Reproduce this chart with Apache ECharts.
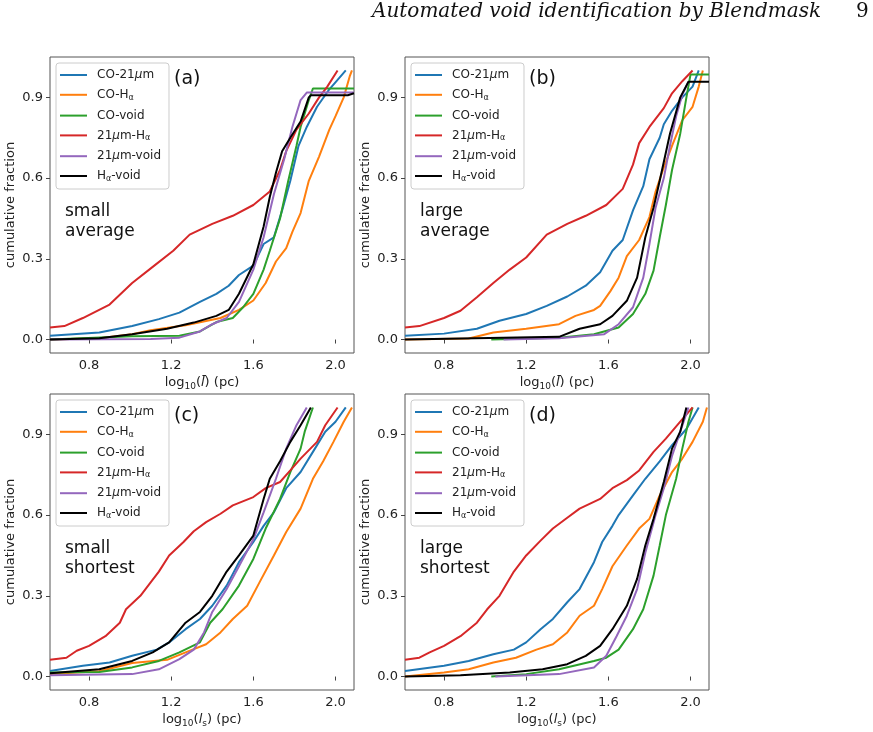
<!DOCTYPE html>
<html>
<head>
<meta charset="utf-8">
<script src="https://cdn.jsdelivr.net/npm/echarts@6/dist/echarts.min.js"></script>
<style>
html, body { margin: 0; background: #fff; }
#chart { width: 873px; height: 732px; }
</style>
</head>
<body>
<div id="chart"></div>
<script>
// series names, same in all four panels
var names = ['CO-21μm', 'CO-Hα', 'CO-void', '21μm-Hα', '21μm-void', 'Hα-void']
var colors = ['#1f77b4', '#ff7f0e', '#2ca02c', '#d62728', '#9467bd', '#000000']

var xTicks = [0.8, 1.2, 1.6, 2.0]
var yTicks = [0.0, 0.3, 0.6, 0.9]

// (a) small / average
var aCo21 = [[0.61,0.014],[0.85,0.026],[1.01,0.05],[1.14,0.076],[1.24,0.10],[1.34,0.14],[1.42,0.17],[1.48,0.20],[1.53,0.24],[1.60,0.275],[1.65,0.355],[1.70,0.38],[1.74,0.48],[1.78,0.59],[1.82,0.72],[1.86,0.79],[1.91,0.865],[1.97,0.93],[2.05,1.0]]
var aCoHa = [[0.61,0.0],[0.85,0.005],[1.01,0.02],[1.10,0.035],[1.27,0.053],[1.44,0.08],[1.53,0.11],[1.60,0.145],[1.66,0.21],[1.71,0.29],[1.76,0.34],[1.79,0.40],[1.83,0.47],[1.87,0.59],[1.92,0.68],[1.97,0.78],[2.00,0.83],[2.04,0.90],[2.07,0.98],[2.08,1.0]]
var aCoVoid = [[0.61,0.0],[1.01,0.012],[1.24,0.014],[1.34,0.03],[1.42,0.065],[1.50,0.08],[1.55,0.12],[1.60,0.17],[1.65,0.26],[1.68,0.33],[1.73,0.45],[1.77,0.59],[1.81,0.72],[1.83,0.79],[1.87,0.89],[1.89,0.933],[2.09,0.933]]
var a21Ha = [[0.61,0.045],[0.68,0.05],[0.77,0.08],[0.90,0.13],[1.01,0.21],[1.11,0.27],[1.21,0.33],[1.29,0.39],[1.40,0.43],[1.50,0.46],[1.60,0.50],[1.68,0.55],[1.73,0.63],[1.76,0.70],[1.81,0.78],[1.87,0.84],[1.92,0.90],[1.96,0.94],[2.01,1.0]]
var a21Void = [[0.61,0.0],[1.10,0.002],[1.24,0.007],[1.34,0.03],[1.40,0.057],[1.47,0.08],[1.53,0.14],[1.60,0.26],[1.65,0.38],[1.70,0.54],[1.75,0.67],[1.79,0.79],[1.83,0.89],[1.86,0.918],[2.09,0.918]]
var aHaVoid = [[0.61,0.0],[0.85,0.005],[1.01,0.02],[1.18,0.04],[1.31,0.063],[1.42,0.088],[1.48,0.11],[1.53,0.17],[1.60,0.28],[1.65,0.42],[1.68,0.53],[1.71,0.62],[1.74,0.70],[1.78,0.75],[1.83,0.81],[1.87,0.90],[1.88,0.908],[2.06,0.908],[2.06,0.915],[2.09,0.915]]

// (b) large / average
var bCo21 = [[0.61,0.014],[0.80,0.022],[0.96,0.04],[1.07,0.07],[1.20,0.095],[1.30,0.125],[1.40,0.16],[1.49,0.20],[1.56,0.25],[1.62,0.33],[1.67,0.37],[1.72,0.48],[1.77,0.57],[1.80,0.67],[1.85,0.75],[1.87,0.80],[1.91,0.85],[1.96,0.90],[2.01,0.94],[2.04,1.0]]
var bCoHa = [[0.61,0.0],[0.92,0.004],[1.04,0.026],[1.20,0.04],[1.36,0.057],[1.44,0.088],[1.53,0.11],[1.56,0.125],[1.61,0.18],[1.65,0.23],[1.69,0.31],[1.75,0.37],[1.80,0.455],[1.83,0.55],[1.87,0.64],[1.91,0.72],[1.96,0.815],[2.01,0.865],[2.04,0.94],[2.06,1.0]]
var bCoVoid = [[1.03,0.0],[1.36,0.007],[1.53,0.02],[1.65,0.045],[1.72,0.095],[1.78,0.17],[1.82,0.256],[1.85,0.38],[1.88,0.50],[1.91,0.63],[1.95,0.765],[1.98,0.90],[2.00,0.985],[2.09,0.985]]
var b21Ha = [[0.61,0.045],[0.68,0.05],[0.80,0.08],[0.88,0.107],[0.96,0.157],[1.04,0.21],[1.12,0.26],[1.20,0.305],[1.30,0.39],[1.40,0.43],[1.49,0.46],[1.59,0.50],[1.67,0.56],[1.72,0.65],[1.75,0.73],[1.80,0.79],[1.87,0.86],[1.91,0.915],[1.96,0.96],[2.01,1.0]]
var b21Void = [[1.09,0.0],[1.36,0.005],[1.58,0.02],[1.65,0.057],[1.72,0.12],[1.77,0.23],[1.80,0.355],[1.83,0.49],[1.87,0.60],[1.90,0.72],[1.93,0.83],[1.96,0.91],[1.99,0.958]]
var bHaVoid = [[0.61,0.0],[1.36,0.01],[1.46,0.04],[1.56,0.057],[1.62,0.088],[1.69,0.144],[1.74,0.23],[1.78,0.38],[1.82,0.49],[1.85,0.59],[1.90,0.765],[1.95,0.90],[1.99,0.958],[2.09,0.958]]

// (c) small / shortest
var cCo21 = [[0.61,0.021],[0.77,0.04],[0.90,0.052],[1.01,0.077],[1.13,0.10],[1.19,0.127],[1.27,0.176],[1.34,0.214],[1.40,0.263],[1.47,0.338],[1.53,0.425],[1.60,0.50],[1.65,0.56],[1.70,0.61],[1.76,0.70],[1.83,0.76],[1.89,0.835],[1.95,0.91],[2.00,0.947],[2.05,1.0]]
var cCoHa = [[0.61,0.009],[0.85,0.02],[1.01,0.05],[1.18,0.062],[1.27,0.09],[1.37,0.12],[1.44,0.164],[1.50,0.214],[1.57,0.263],[1.63,0.35],[1.70,0.45],[1.76,0.537],[1.83,0.624],[1.89,0.735],[1.94,0.80],[1.99,0.872],[2.04,0.947],[2.08,1.0]]
var cCoVoid = [[0.61,0.015],[0.85,0.017],[1.01,0.034],[1.14,0.058],[1.24,0.09],[1.34,0.127],[1.39,0.20],[1.45,0.25],[1.53,0.338],[1.60,0.437],[1.66,0.55],[1.73,0.66],[1.78,0.76],[1.83,0.847],[1.85,0.91],[1.89,1.0]]
var c21Ha = [[0.61,0.062],[0.69,0.07],[0.74,0.096],[0.80,0.114],[0.88,0.15],[0.95,0.20],[0.98,0.25],[1.05,0.30],[1.10,0.35],[1.14,0.39],[1.19,0.45],[1.26,0.50],[1.31,0.54],[1.37,0.574],[1.44,0.605],[1.50,0.636],[1.60,0.667],[1.66,0.70],[1.73,0.723],[1.78,0.766],[1.83,0.81],[1.91,0.872],[1.95,0.934],[2.01,1.0]]
var c21Void = [[0.61,0.005],[1.01,0.009],[1.14,0.027],[1.24,0.065],[1.31,0.10],[1.36,0.164],[1.40,0.24],[1.47,0.325],[1.53,0.41],[1.60,0.51],[1.65,0.61],[1.71,0.735],[1.76,0.847],[1.81,0.934],[1.86,1.0]]
var cHaVoid = [[0.61,0.012],[0.85,0.027],[1.01,0.058],[1.11,0.09],[1.19,0.127],[1.27,0.20],[1.34,0.24],[1.40,0.30],[1.47,0.39],[1.53,0.45],[1.60,0.524],[1.65,0.66],[1.68,0.735],[1.73,0.80],[1.78,0.872],[1.83,0.934],[1.88,1.0]]

// (d) large / shortest
var dCo21 = [[0.61,0.021],[0.80,0.04],[0.92,0.058],[1.04,0.083],[1.14,0.10],[1.20,0.127],[1.27,0.176],[1.33,0.214],[1.40,0.276],[1.46,0.325],[1.53,0.425],[1.57,0.50],[1.62,0.56],[1.65,0.60],[1.72,0.673],[1.78,0.735],[1.85,0.80],[1.91,0.86],[1.98,0.92],[2.04,1.0]]
var dCoHa = [[0.61,0.0],[0.80,0.015],[0.92,0.027],[1.04,0.052],[1.15,0.07],[1.25,0.10],[1.33,0.12],[1.40,0.164],[1.46,0.226],[1.53,0.263],[1.57,0.325],[1.62,0.41],[1.69,0.487],[1.75,0.55],[1.80,0.586],[1.85,0.673],[1.91,0.76],[1.96,0.81],[2.01,0.872],[2.06,0.947],[2.08,1.0]]
var dCoVoid = [[1.03,0.0],[1.20,0.009],[1.36,0.027],[1.53,0.058],[1.59,0.07],[1.65,0.10],[1.72,0.176],[1.77,0.25],[1.82,0.375],[1.85,0.487],[1.88,0.60],[1.93,0.735],[1.96,0.847],[1.99,0.947],[2.01,1.0]]
var d21Ha = [[0.61,0.062],[0.68,0.07],[0.73,0.09],[0.80,0.114],[0.88,0.15],[0.96,0.20],[1.01,0.25],[1.07,0.30],[1.14,0.39],[1.20,0.45],[1.27,0.505],[1.33,0.55],[1.40,0.59],[1.46,0.624],[1.56,0.66],[1.62,0.70],[1.69,0.73],[1.75,0.766],[1.82,0.835],[1.88,0.884],[1.95,0.947],[2.01,1.0]]
var d21Void = [[1.05,0.0],[1.36,0.009],[1.53,0.034],[1.59,0.077],[1.64,0.15],[1.69,0.226],[1.74,0.325],[1.78,0.46],[1.83,0.60],[1.87,0.70],[1.91,0.82],[1.95,0.91],[1.99,1.0]]
var dHaVoid = [[0.61,0.0],[0.88,0.005],[1.12,0.015],[1.28,0.027],[1.40,0.046],[1.49,0.077],[1.56,0.114],[1.62,0.176],[1.69,0.263],[1.74,0.363],[1.78,0.487],[1.82,0.586],[1.87,0.723],[1.91,0.847],[1.95,0.91],[1.98,1.0]]

var panels = [
    { data: [aCo21, aCoHa, aCoVoid, a21Ha, a21Void, aHaVoid], tag: '(a)', note: 'small\naverage', xname: 'mean' },
    { data: [bCo21, bCoHa, bCoVoid, b21Ha, b21Void, bHaVoid], tag: '(b)', note: 'large\naverage', xname: 'mean' },
    { data: [cCo21, cCoHa, cCoVoid, c21Ha, c21Void, cHaVoid], tag: '(c)', note: 'small\nshortest', xname: 'short' },
    { data: [dCo21, dCoHa, dCoVoid, d21Ha, d21Void, dHaVoid], tag: '(d)', note: 'large\nshortest', xname: 'short' }
]

var font = 'DejaVu Sans'
var boxes = [[50, 57], [405, 57], [50, 394], [405, 394]]

// legend labels with sub-scripts
var legendText = {
    'CO-21μm': '{t|CO-21}{i|μ}{t|m}',
    'CO-Hα': '{t|CO-H}{s|α}',
    'CO-void': '{t|CO-void}',
    '21μm-Hα': '{t|21}{i|μ}{t|m-H}{s|α}',
    '21μm-void': '{t|21}{i|μ}{t|m-void}',
    'Hα-void': '{t|H}{s|α}{t|-void}'
}
var xNames = {
    mean: '{t|log}{s|10}{t|(}{i|l̄}{t|) (pc)}',
    short: '{t|log}{s|10}{t|(}{i|l}{s|s}{t|) (pc)}'
}

var grid = [], xAxis = [], yAxis = [], series = [], legend = [], graphic = []

for (var p = 0; p < panels.length; p++) {
    var bx = boxes[p][0], by = boxes[p][1]
    grid.push({
        left: bx, top: by, width: 304, height: 296,
        show: true, borderColor: '#555', borderWidth: 1
    })
    xAxis.push({
        type: 'value', gridIndex: p, min: 0.61, max: 2.09,
        name: xNames[panels[p].xname], nameLocation: 'middle', nameGap: 22,
        nameTextStyle: {
            rich: {
                t: { fontFamily: font, fontSize: 13, color: '#222' },
                i: { fontFamily: font, fontSize: 13, fontStyle: 'italic', color: '#222' },
                s: { fontFamily: font, fontSize: 9, color: '#222', padding: [7, 0, 0, 0] }
            }
        },
        splitLine: { show: false },
        axisLine: { show: false },
        axisTick: { show: true, length: 4, lineStyle: { color: '#444' }, customValues: xTicks },
        axisLabel: {
            fontFamily: font, fontSize: 13, color: '#222', margin: 6,
            customValues: xTicks,
            formatter: function(v) { return v.toFixed(1) }
        }
    })
    yAxis.push({
        type: 'value', gridIndex: p, min: -0.05, max: 1.05,
        name: 'cumulative fraction', nameLocation: 'middle', nameGap: 33,
        nameTextStyle: { fontFamily: font, fontSize: 13, color: '#222' },
        splitLine: { show: false },
        axisLine: { show: false },
        axisTick: { show: true, length: 4, lineStyle: { color: '#444' }, customValues: yTicks },
        axisLabel: {
            fontFamily: font, fontSize: 13, color: '#222', margin: 7,
            customValues: yTicks,
            formatter: function(v) { return v.toFixed(1) }
        }
    })
    for (var s = 0; s < names.length; s++) {
        series.push({
            name: names[s], type: 'line', xAxisIndex: p, yAxisIndex: p,
            data: panels[p].data[s], showSymbol: false, silent: true,
            color: colors[s],
            lineStyle: { width: 2, color: colors[s] }
        })
    }
    legend.push({
        data: names, orient: 'vertical',
        left: bx + 6, top: by + 6,
        icon: 'rect', itemWidth: 27, itemHeight: 2, itemGap: 7.8,
        padding: [6, 8, 6, 4],
        backgroundColor: 'rgba(255,255,255,0.85)',
        borderColor: '#ccc', borderWidth: 1, borderRadius: 3,
        selectedMode: false,
        formatter: function(name) { return legendText[name] },
        textStyle: {
            padding: [0, 0, 0, 5],
            rich: {
                t: { fontFamily: font, fontSize: 12, color: '#222' },
                i: { fontFamily: font, fontSize: 12, fontStyle: 'italic', color: '#222' },
                s: { fontFamily: font, fontSize: 8, color: '#222', padding: [6, 0, 0, 0] }
            }
        }
    })
    graphic.push({
        type: 'text', left: bx + 124, top: by + 13,
        style: { text: panels[p].tag, fontFamily: font, fontSize: 19, fill: '#111' }
    })
    graphic.push({
        type: 'text', left: bx + 15, top: by + 145,
        style: { text: panels[p].note, fontFamily: font, fontSize: 17, lineHeight: 20, fill: '#111' }
    })
}

// running page header
graphic.push({
    type: 'text', left: 372, top: 2,
    style: { text: 'Automated void identification by Blendmask', fontFamily: 'DejaVu Serif', fontStyle: 'italic', fontSize: 20, fill: '#111' }
})
graphic.push({
    type: 'text', left: 856, top: 2,
    style: { text: '9', fontFamily: 'DejaVu Serif', fontSize: 20, fill: '#111' }
})

var myChart = echarts.init(document.getElementById('chart'))
myChart.setOption({
    animation: false,
    grid: grid,
    xAxis: xAxis,
    yAxis: yAxis,
    legend: legend,
    series: series,
    graphic: graphic
})
</script>
</body>
</html>
